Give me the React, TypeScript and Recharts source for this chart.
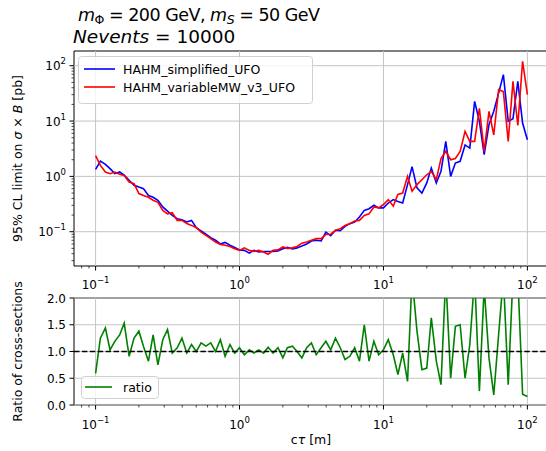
import { LineChart, Line, XAxis, YAxis, ReferenceLine, ReferenceArea } from "recharts";

// c*tau values [m], log spaced 0.1 -> 100
const ctau = [
  0.1, 0.108, 0.117, 0.126, 0.136, 0.147, 0.158, 0.171, 0.185, 0.2,
  0.215, 0.233, 0.251, 0.271, 0.293, 0.316, 0.341, 0.369, 0.398, 0.43,
  0.464, 0.501, 0.541, 0.584, 0.631, 0.681, 0.736, 0.794, 0.858, 0.926,
  1.0, 1.08, 1.17, 1.26, 1.36, 1.47, 1.58, 1.71, 1.85, 2.0,
  2.15, 2.33, 2.51, 2.71, 2.93, 3.16, 3.41, 3.69, 3.98, 4.3,
  4.64, 5.01, 5.41, 5.84, 6.31, 6.81, 7.36, 7.94, 8.58, 9.26,
  10, 10.8, 11.7, 12.6, 13.6, 14.7, 15.8, 17.1, 18.5, 20,
  21.5, 23.3, 25.1, 27.1, 29.3, 31.6, 34.1, 36.9, 39.8, 43,
  46.4, 50.1, 54.1, 58.4, 63.1, 68.1, 73.6, 79.4, 85.8, 92.6,
  100,
];

// 95% CL limit on sigma x B [pb]
const limitSimplified = [
  1.34, 1.89, 1.65, 1.38, 1.12, 1.2, 1.05, 0.85, 0.69, 0.64,
  0.6, 0.45, 0.42, 0.37, 0.28, 0.236, 0.197, 0.172, 0.165, 0.15,
  0.16, 0.118, 0.103, 0.09, 0.078, 0.07, 0.06, 0.064, 0.057, 0.052,
  0.047, 0.046, 0.041, 0.046, 0.043, 0.044, 0.044, 0.044, 0.045, 0.049,
  0.052, 0.049, 0.051, 0.055, 0.06, 0.068, 0.07, 0.068, 0.098, 0.085,
  0.106, 0.104, 0.125, 0.14, 0.15, 0.184, 0.243, 0.26, 0.3, 0.27,
  0.27, 0.33, 0.38, 0.35, 0.33, 0.71, 1.5, 0.62, 0.5, 0.76,
  1.41, 0.76, 1.23, 4.3, 1.0, 1.74, 1.87, 3.7, 3.25, 22.7,
  9.9, 2.46, 8.6, 15, 32, 69, 9.9, 11, 52, 9.2,
  4.6,
];

const limitVariableMW = [
  2.37, 1.58, 1.2, 1.12, 1.2, 1.09, 1.04, 0.79, 0.74, 0.49,
  0.45, 0.42, 0.37, 0.34, 0.243, 0.21, 0.22, 0.16, 0.16, 0.14,
  0.13, 0.118, 0.098, 0.086, 0.075, 0.065, 0.059, 0.057, 0.054, 0.049,
  0.046, 0.051, 0.046, 0.044, 0.046, 0.043, 0.039, 0.046, 0.047, 0.053,
  0.05, 0.051, 0.054, 0.062, 0.065, 0.07, 0.075, 0.075, 0.089, 0.09,
  0.106, 0.113, 0.13, 0.14, 0.156, 0.16, 0.197, 0.21, 0.28, 0.27,
  0.31, 0.38, 0.29, 0.47, 0.5, 1.0, 0.54, 0.71, 0.87, 1.07,
  1.23, 0.87, 2.1, 2.83, 2.0, 2.1, 2.83, 6.5, 4.3, 4.3,
  17, 2.83, 15, 5.6, 37, 34, 4.3, 52, 8.3, 120,
  30,
];

// ratio of cross-sections
const ratio = [
  0.59, 1.25, 1.44, 1.03, 1.19, 1.31, 1.53, 0.91, 1.25, 1.38,
  1.1, 0.82, 1.31, 0.75, 1.22, 1.41, 0.97, 1.07, 1.25, 0.97,
  1.13, 1.0, 1.16, 1.1, 1.16, 1.0, 1.22, 0.91, 1.13, 0.97,
  1.07, 0.94, 1.03, 0.97, 1.03, 0.97, 1.08, 0.97, 1.07, 0.88,
  1.07, 1.1, 1.0, 0.88, 1.07, 1.16, 0.94, 1.07, 1.19, 1.03,
  1.25, 1.07, 0.85, 0.91, 1.07, 0.82, 1.5, 0.82, 1.19, 0.94,
  1.03, 1.22, 0.94, 0.57, 0.97, 0.44, 2.4, 1.38, 0.66, 0.69,
  1.63, 0.82, 0.38, 2.4, 0.5, 1.47, 1.5, 0.5, 1.13, 2.4,
  0.26, 2.2, 0.88, 0.19, 1.31, 2.4, 0.38, 2.4, 2.4, 0.2,
  0.16,
];

const seriesNames = ["HAHM_simplified_UFO", "HAHM_variableMW_v3_UFO"];
const seriesColors = ["#0000ff", "#ff0000"];
const ratioName = "ratio";
const ratioColor = "#008000";

const xDecades = [0.1, 1, 10, 100];
const xMinor = [
  0.08, 0.09, 0.2, 0.3, 0.4, 0.5, 0.6, 0.7, 0.8, 0.9,
  2, 3, 4, 5, 6, 7, 8, 9, 20, 30, 40, 50, 60, 70, 80, 90,
];
const yDecades = [0.1, 1, 10, 100];
const yMinor = [
  0.03, 0.04, 0.05, 0.06, 0.07, 0.08, 0.09,
  0.2, 0.3, 0.4, 0.5, 0.6, 0.7, 0.8, 0.9,
  2, 3, 4, 5, 6, 7, 8, 9, 20, 30, 40, 50, 60, 70, 80, 90,
];
const ratioTicks = [0, 0.5, 1, 1.5, 2];

const X_DOMAIN: [number, number] = [0.0708, 141.3];
const Y_DOMAIN: [number, number] = [0.024, 184.5];
const R_DOMAIN: [number, number] = [0, 2];

const FONT = "'DejaVu Sans', sans-serif";
const GRID = "#c4c4c4";

const limitData = ctau.map((c, i) => ({
  ctau: c,
  simplified: limitSimplified[i],
  variable: limitVariableMW[i],
}));
const ratioData = ctau.map((c, i) => ({ ctau: c, ratio: ratio[i] }));

type TickProps = { x?: number; y?: number; payload?: { value: number } };

const expOf = (v: number) => Math.round(Math.log10(v));
const isDecade = (v: number) => Math.abs(Math.log10(v) - expOf(v)) < 1e-6;
const expText = (e: number) => (e < 0 ? `\u2212${-e}` : `${e}`);

const makeXTick = (labelDy: number) => (props: TickProps) => {
  const { x = 0, y = 0, payload } = props;
  const v = payload?.value ?? 1;
  const major = isDecade(v);
  const top = y - 1;
  return (
    <g>
      <line x1={x} x2={x} y1={top} y2={top + (major ? 4.5 : 2.5)} stroke="#000" strokeWidth={major ? 1 : 0.7} />
      {major && (
        <text x={x} y={top + labelDy} textAnchor="middle" fontSize={12} fontFamily={FONT} fill="#000">
          10
          <tspan dy={-6} fontSize={8.5}>
            {expText(expOf(v))}
          </tspan>
        </text>
      )}
    </g>
  );
};

const LogYTick = (props: TickProps) => {
  const { x = 0, y = 0, payload } = props;
  const v = payload?.value ?? 1;
  const major = isDecade(v);
  const left = x + 1;
  return (
    <g>
      <line x1={left} x2={left - (major ? 4.5 : 2.5)} y1={y} y2={y} stroke="#000" strokeWidth={major ? 1 : 0.7} />
      {major && (
        <text x={left - 8} y={y + 4.5} textAnchor="end" fontSize={12} fontFamily={FONT} fill="#000">
          10
          <tspan dy={-6} fontSize={8.5}>
            {expText(expOf(v))}
          </tspan>
        </text>
      )}
    </g>
  );
};

const RatioYTick = (props: TickProps) => {
  const { x = 0, y = 0, payload } = props;
  const v = payload?.value ?? 0;
  const left = x + 1;
  return (
    <g>
      <line x1={left} x2={left - 4.5} y1={y} y2={y} stroke="#000" strokeWidth={1} />
      <text x={left - 8} y={y + 4.5} textAnchor="end" fontSize={12} fontFamily={FONT} fill="#000">
        {v.toFixed(1)}
      </text>
    </g>
  );
};

const TopXTick = makeXTick(22.5);
const BottomXTick = makeXTick(24);

export default function App() {
  return (
    <div
      style={{
        position: "absolute",
        left: 0,
        top: 0,
        width: 546,
        height: 451,
        overflow: "hidden",
        background: "#fff",
        fontFamily: FONT,
      }}
    >
      {/* upper panel: limits */}
      <div style={{ position: "absolute", left: 0, top: 0 }}>
        <LineChart width={549} height={290} data={limitData} margin={{ top: 51, right: 0, left: 0, bottom: 0 }}>
          <XAxis
            dataKey="ctau"
            type="number"
            scale="log"
            domain={X_DOMAIN}
            allowDataOverflow
            ticks={[...xDecades, ...xMinor]}
            interval={0}
            tick={(p: TickProps) => <TopXTick {...p} />}
            tickLine={false}
            axisLine={false}
            tickSize={1}
            tickMargin={0}
            height={24}
          />
          <YAxis
            type="number"
            scale="log"
            domain={Y_DOMAIN}
            allowDataOverflow
            ticks={[...yDecades, ...yMinor]}
            interval={0}
            tick={(p: TickProps) => <LogYTick {...p} />}
            tickLine={false}
            axisLine={false}
            tickSize={1}
            tickMargin={0}
            width={74}
          />
          {xDecades.map((v) => (
            <ReferenceLine key={`gx${v}`} x={v} stroke={GRID} strokeWidth={1} />
          ))}
          {yDecades.map((v) => (
            <ReferenceLine key={`gy${v}`} y={v} stroke={GRID} strokeWidth={1} />
          ))}
          <Line
            type="linear"
            dataKey="simplified"
            stroke={seriesColors[0]}
            strokeWidth={1.6}
            dot={false}
            isAnimationActive={false}
          />
          <Line
            type="linear"
            dataKey="variable"
            stroke={seriesColors[1]}
            strokeWidth={1.6}
            dot={false}
            isAnimationActive={false}
          />
          <ReferenceArea
            x1={X_DOMAIN[0]}
            x2={X_DOMAIN[1]}
            y1={Y_DOMAIN[0]}
            y2={Y_DOMAIN[1]}
            fill="none"
            fillOpacity={0}
            stroke="#000"
            strokeWidth={1}
          />
        </LineChart>
      </div>

      {/* lower panel: ratio */}
      <div style={{ position: "absolute", left: 0, top: 270 }}>
        <LineChart width={549} height={181} data={ratioData} margin={{ top: 28, right: 0, left: 0, bottom: 0 }}>
          <XAxis
            dataKey="ctau"
            type="number"
            scale="log"
            domain={X_DOMAIN}
            allowDataOverflow
            ticks={[...xDecades, ...xMinor]}
            interval={0}
            tick={(p: TickProps) => <BottomXTick {...p} />}
            tickLine={false}
            axisLine={false}
            tickSize={1}
            tickMargin={0}
            height={46}
          />
          <YAxis
            type="number"
            domain={R_DOMAIN}
            allowDataOverflow
            ticks={ratioTicks}
            interval={0}
            tick={(p: TickProps) => <RatioYTick {...p} />}
            tickLine={false}
            axisLine={false}
            tickSize={1}
            tickMargin={0}
            width={74}
          />
          {xDecades.map((v) => (
            <ReferenceLine key={`rx${v}`} x={v} stroke={GRID} strokeWidth={1} />
          ))}
          {ratioTicks.map((v) => (
            <ReferenceLine key={`ry${v}`} y={v} stroke={GRID} strokeWidth={1} />
          ))}
          <Line
            type="linear"
            dataKey="ratio"
            stroke={ratioColor}
            strokeWidth={1.6}
            dot={false}
            isAnimationActive={false}
          />
          <ReferenceLine y={1} stroke="#000" strokeWidth={1.5} strokeDasharray="5.5 2.4" />
          <ReferenceArea
            x1={X_DOMAIN[0]}
            x2={X_DOMAIN[1]}
            y1={R_DOMAIN[0]}
            y2={R_DOMAIN[1]}
            fill="none"
            fillOpacity={0}
            stroke="#000"
            strokeWidth={1}
          />
        </LineChart>
      </div>

      {/* titles, axis labels, legends */}
      <svg
        width={546}
        height={451}
        style={{ position: "absolute", left: 0, top: 0, pointerEvents: "none" }}
        fontFamily={FONT}
      >
        <text x={78} y={21} fontSize={17.5} letterSpacing={-0.5} fill="#000" style={{ whiteSpace: "pre" }}>
          <tspan fontStyle="italic">m</tspan>
          <tspan dy={3} fontSize={12.5}>Φ</tspan>
          <tspan dy={-3}>{" = 200 GeV, "}</tspan>
          <tspan fontStyle="italic">m</tspan>
          <tspan dy={3} fontSize={12.5} fontStyle="italic">S</tspan>
          <tspan dy={-3}>{" = 50 GeV"}</tspan>
        </text>
        <text x={73} y={43} fontSize={18.5} fill="#000" style={{ whiteSpace: "pre" }}>
          <tspan fontStyle="italic">Nevents</tspan>
          <tspan>{" = 10000"}</tspan>
        </text>

        <text
          x={22}
          y={158.5}
          fontSize={12.5}
          fill="#000"
          textAnchor="middle"
          transform="rotate(-90 22 158.5)"
          style={{ whiteSpace: "pre" }}
        >
          {"95% CL limit on "}
          <tspan fontStyle="italic">σ</tspan>
          {" × "}
          <tspan fontStyle="italic">B</tspan>
          {" [pb]"}
        </text>
        <text
          x={22}
          y={351.5}
          fontSize={12.5}
          fill="#000"
          textAnchor="middle"
          transform="rotate(-90 22 351.5)"
        >
          Ratio of cross-sections
        </text>
        <text x={311} y={444} fontSize={12.5} fill="#000" textAnchor="middle" style={{ whiteSpace: "pre" }}>
          c<tspan fontStyle="italic">τ</tspan>
          {" [m]"}
        </text>

        {/* upper legend */}
        <rect x={78.5} y={56.5} width={234} height={47} rx={3} fill="#fff" fillOpacity={0.8} stroke="#d0d0d0" />
        {seriesNames.map((name, i) => (
          <g key={name}>
            <line x1={84} x2={115} y1={69 + i * 18} y2={69 + i * 18} stroke={seriesColors[i]} strokeWidth={1.6} />
            <text x={123} y={73.5 + i * 18} fontSize={12.5} fill="#000">
              {name}
            </text>
          </g>
        ))}

        {/* lower legend */}
        <rect x={81.5} y={376.5} width={77} height={22} rx={3} fill="#fff" fillOpacity={0.8} stroke="#d0d0d0" />
        <line x1={85} x2={112} y1={387} y2={387} stroke={ratioColor} strokeWidth={1.6} />
        <text x={123} y={391.5} fontSize={12.5} fill="#000">
          {ratioName}
        </text>
      </svg>
    </div>
  );
}
